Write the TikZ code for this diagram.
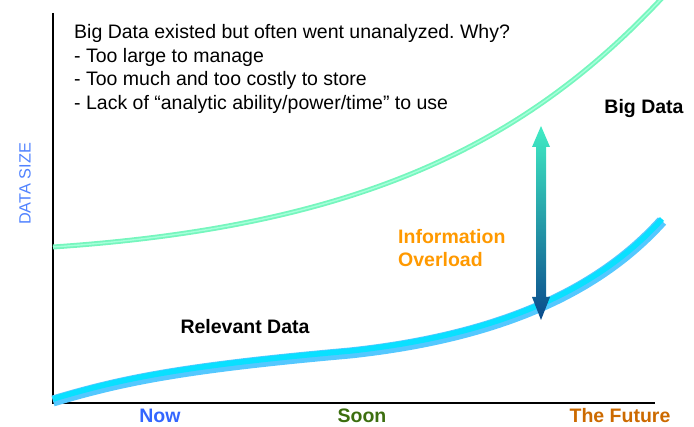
\documentclass[tikz,border=0pt]{standalone}
\usepackage{fontspec}
\setmainfont{Liberation Sans}
\usepackage{xcolor}
\definecolor{bdgreen}{RGB}{118,246,190}
\definecolor{bdlight}{RGB}{165,255,218}
\definecolor{rdblue}{RGB}{84,200,255}
\definecolor{rdcyan}{RGB}{10,224,255}
\definecolor{nowblue}{RGB}{51,102,255}
\definecolor{soongreen}{RGB}{60,110,15}
\definecolor{futorange}{RGB}{204,106,0}
\definecolor{ovlorange}{RGB}{255,153,0}
\definecolor{axisblue}{RGB}{80,130,255}
\definecolor{arrtop}{RGB}{64,236,196}
\definecolor{arrmid}{RGB}{0,162,224}
\definecolor{arrbot}{RGB}{10,74,140}
\usetikzlibrary{calc}
\tikzset{
  txt/.style={font=\fontsize{19.5}{23.5}\selectfont,inner sep=0pt,align=left},
  bold/.style={txt,font=\fontsize{19.5}{23.5}\selectfont\bfseries},
  axis/.style={line width=1.2pt,draw=black},
  bigline/.style={line width=5pt,draw=bdgreen},
  bigcore/.style={line width=1.4pt,draw=bdlight},
  relline/.style={line width=11pt,draw=rdblue},
  relcore/.style={line width=5.5pt,draw=rdcyan},
}
\frenchspacing

\begin{document}
\begin{tikzpicture}[x=1pt,y=-1pt]
    \useasboundingbox (0,0) rectangle (694,427);
    \clip (0,0) rectangle (694,427);
    % axes
    \draw[axis] (53,13) -- (53,403) -- (655,403);
    \node[font=\fontsize{16.3}{18}\selectfont,text=axisblue,rotate=90] (ylab) at (25,184) {DATA SIZE};
    \node[bold,text=nowblue,anchor=base] (now) at (160,423) {Now};
    \node[bold,text=soongreen,anchor=base] (soon) at (362,423) {Soon};
    \node[bold,text=futorange,anchor=base] (future) at (620,423) {The Future};
    % curves
    \draw[bigline] (53,247) .. controls (350,227) and (520,150) .. (662,-2);
    \draw[bigcore] (53,247) .. controls (350,227) and (520,150) .. (662,-2);
    \draw[relline] (53,401) .. controls (120,381) and (180,368) .. (350,353)
                            .. controls (480,339) and (590,301) .. (662,221);
    \draw[relcore,yshift=2pt] (53,401) .. controls (120,381) and (180,368) .. (350,353)
                            .. controls (480,339) and (590,301) .. (662,221);
    % gap between the two
    \coordinate (bdpt) at (541,126);
    \coordinate (rdpt) at (541,320);
    \shade[top color=arrtop,middle color=arrmid,bottom color=arrbot]
      (bdpt) -- ($(bdpt)+(9,21)$) -- ($(bdpt)+(5,21)$) -- ($(rdpt)+(5,-23)$) -- ($(rdpt)+(9,-23)$)
      -- (rdpt) -- ($(rdpt)+(-9,-23)$) -- ($(rdpt)+(-5,-23)$) -- ($(bdpt)+(-5,21)$) -- ($(bdpt)+(-9,21)$) -- cycle;
    % labels
    \node[txt,anchor=north west] (why) at (74,24.5) {Big Data existed but often went unanalyzed. Why?\\
      - Too large to manage\\
      - Too much and too costly to store\\
      - Lack of “analytic ability/power/time” to use};
    \node[bold,anchor=base] (biglab) at (644,114) {Big Data};
    \node[bold,anchor=base] (rellab) at (245,334) {Relevant Data};
    \node[bold,text=ovlorange,anchor=base west] (ovllab) at (398,267) {Information\\Overload};
  \end{tikzpicture}
\end{document}
